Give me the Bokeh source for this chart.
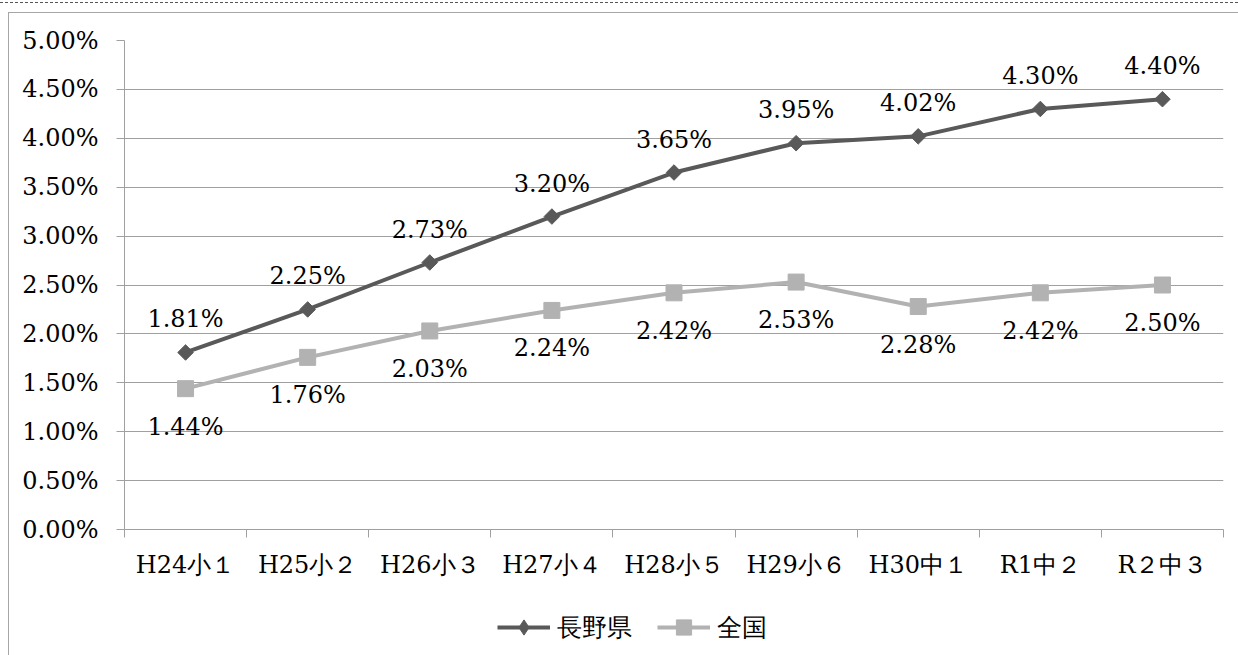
import math
from bokeh.plotting import figure
from bokeh.layouts import column
from bokeh.models import (Range1d, FixedTicker, NumeralTickFormatter, Legend, LegendItem,
                          ColumnDataSource)
from bokeh.core.properties import value
from bokeh.embed import file_html
from bokeh.resources import INLINE

# ---- data ----
categories = ["H24小１", "H25小２", "H26小３", "H27小４", "H28小５", "H29小６", "H30中１", "R1中２", "R２中３"]
nagano = [1.81, 2.25, 2.73, 3.20, 3.65, 3.95, 4.02, 4.30, 4.40]   # %
zenkoku = [1.44, 1.76, 2.03, 2.24, 2.42, 2.53, 2.28, 2.42, 2.50]  # %
series_names = ["長野県", "全国"]
y_tick_values = [0.0, 0.5, 1.0, 1.5, 2.0, 2.5, 3.0, 3.5, 4.0, 4.5, 5.0]  # %

# ---- style ----
FONT = "DejaVu Serif"
FS = "24px"
GRID = "#a0a0a0"
FRAME = "#a6a6a6"
DARK = "#595959"
LIGHT = "#b2b2b2"

n = len(categories)
xc = [i + 0.5 for i in range(n)]

src = ColumnDataSource(dict(
    x=xc,
    nagano=[v / 100 for v in nagano],
    zenkoku=[v / 100 for v in zenkoku],
    nagano_lbl=[f"{v:.2f}%" for v in nagano],
    zenkoku_lbl=[f"{v:.2f}%" for v in zenkoku],
))

p = figure(width=1230, height=583, output_backend="svg", toolbar_location=None,
           x_range=Range1d(0, n), y_range=Range1d(0, y_tick_values[-1] / 100),
           min_border_left=115, min_border_right=16, min_border_top=27, min_border_bottom=67)
p.margin = (9, 0, 0, 8)
p.styles = {"border-top": f"1px solid {FRAME}", "border-left": f"1px solid {FRAME}"}
p.outline_line_color = None
p.background_fill_color = "white"
p.border_fill_color = "white"

# grid
p.xgrid.visible = False
p.ygrid.grid_line_color = GRID
p.ygrid.grid_line_width = 1

# y axis
ya = p.yaxis[0]
ya.ticker = FixedTicker(ticks=[v / 100 for v in y_tick_values])
ya.formatter = NumeralTickFormatter(format="0.00%")
ya.axis_line_color = GRID
ya.major_tick_line_color = GRID
ya.major_tick_out = 8
ya.major_tick_in = 0
ya.minor_tick_line_color = None
ya.major_label_standoff = 18
ya.major_label_text_font = FONT
ya.major_label_text_font_size = FS
ya.major_label_text_color = "black"

# x axis
xa = p.xaxis[0]
xa.ticker = FixedTicker(ticks=xc, minor_ticks=list(range(n + 1)))
xa.major_label_overrides = {x: c for x, c in zip(xc, categories)}
xa.axis_line_color = GRID
xa.major_tick_line_color = None
xa.major_tick_out = 0
xa.major_tick_in = 0
xa.minor_tick_line_color = GRID
xa.minor_tick_out = 8
xa.minor_tick_in = 0
xa.major_label_standoff = 13
xa.major_label_text_font = FONT
xa.major_label_text_font_size = FS
xa.major_label_text_color = "black"

# series
p.line("x", "nagano", source=src, line_color=DARK, line_width=4)
p.scatter("x", "nagano", source=src, marker="square", angle=math.pi / 4, size=11,
          fill_color=DARK, line_color=DARK)
p.line("x", "zenkoku", source=src, line_color=LIGHT, line_width=4)
p.scatter("x", "zenkoku", source=src, marker="square", size=16,
          fill_color=LIGHT, line_color=LIGHT)

p.text("x", "nagano", text="nagano_lbl", source=src, text_align="center", text_baseline="middle",
       y_offset=-33, text_font=value(FONT), text_font_size=FS, text_color="black")
p.text("x", "zenkoku", text="zenkoku_lbl", source=src, text_align="center", text_baseline="middle",
       y_offset=38, text_font=value(FONT), text_font_size=FS, text_color="black")

# ---- legend strip (separate figure so the legend is not clipped) ----
pl = figure(width=1230, height=60, output_backend="svg", toolbar_location=None,
            x_range=Range1d(0, 1), y_range=Range1d(10, 11),
            min_border_left=0, min_border_right=0, min_border_top=0, min_border_bottom=0)
pl.margin = (0, 0, 0, 8)
pl.styles = {"border-left": f"1px solid {FRAME}"}
pl.axis.visible = False
pl.grid.visible = False
pl.outline_line_color = None
pl.background_fill_color = "white"
pl.border_fill_color = "white"

# same series drawn off-view: they only feed the legend glyphs
ll1 = pl.line("x", "nagano", source=src, line_color=DARK, line_width=4)
ls1 = pl.scatter("x", "nagano", source=src, marker="diamond", size=16,
                 fill_color=DARK, line_color=DARK)
ll2 = pl.line("x", "zenkoku", source=src, line_color=LIGHT, line_width=4)
ls2 = pl.scatter("x", "zenkoku", source=src, marker="square", size=16,
                 fill_color=LIGHT, line_color=LIGHT)

legend = Legend(items=[LegendItem(label=series_names[0], renderers=[ll1, ls1]),
                       LegendItem(label=series_names[1], renderers=[ll2, ls2])],
                orientation="horizontal", location=(373, 9))
legend.border_line_color = None
legend.background_fill_alpha = 0
legend.glyph_width = 53
legend.glyph_height = 38
legend.label_standoff = 7
legend.spacing = 25
legend.padding = 0
legend.margin = 0
legend.label_text_font = FONT
legend.label_text_font_size = "25px"
legend.label_text_color = "black"
pl.add_layout(legend, "center")

layout = column(p, pl, spacing=0)
layout.margin = (2, 0, 0, 0)
layout.styles = {"border-top": "1px dashed #555555"}

open("out.html", "w").write(file_html(layout, INLINE))
